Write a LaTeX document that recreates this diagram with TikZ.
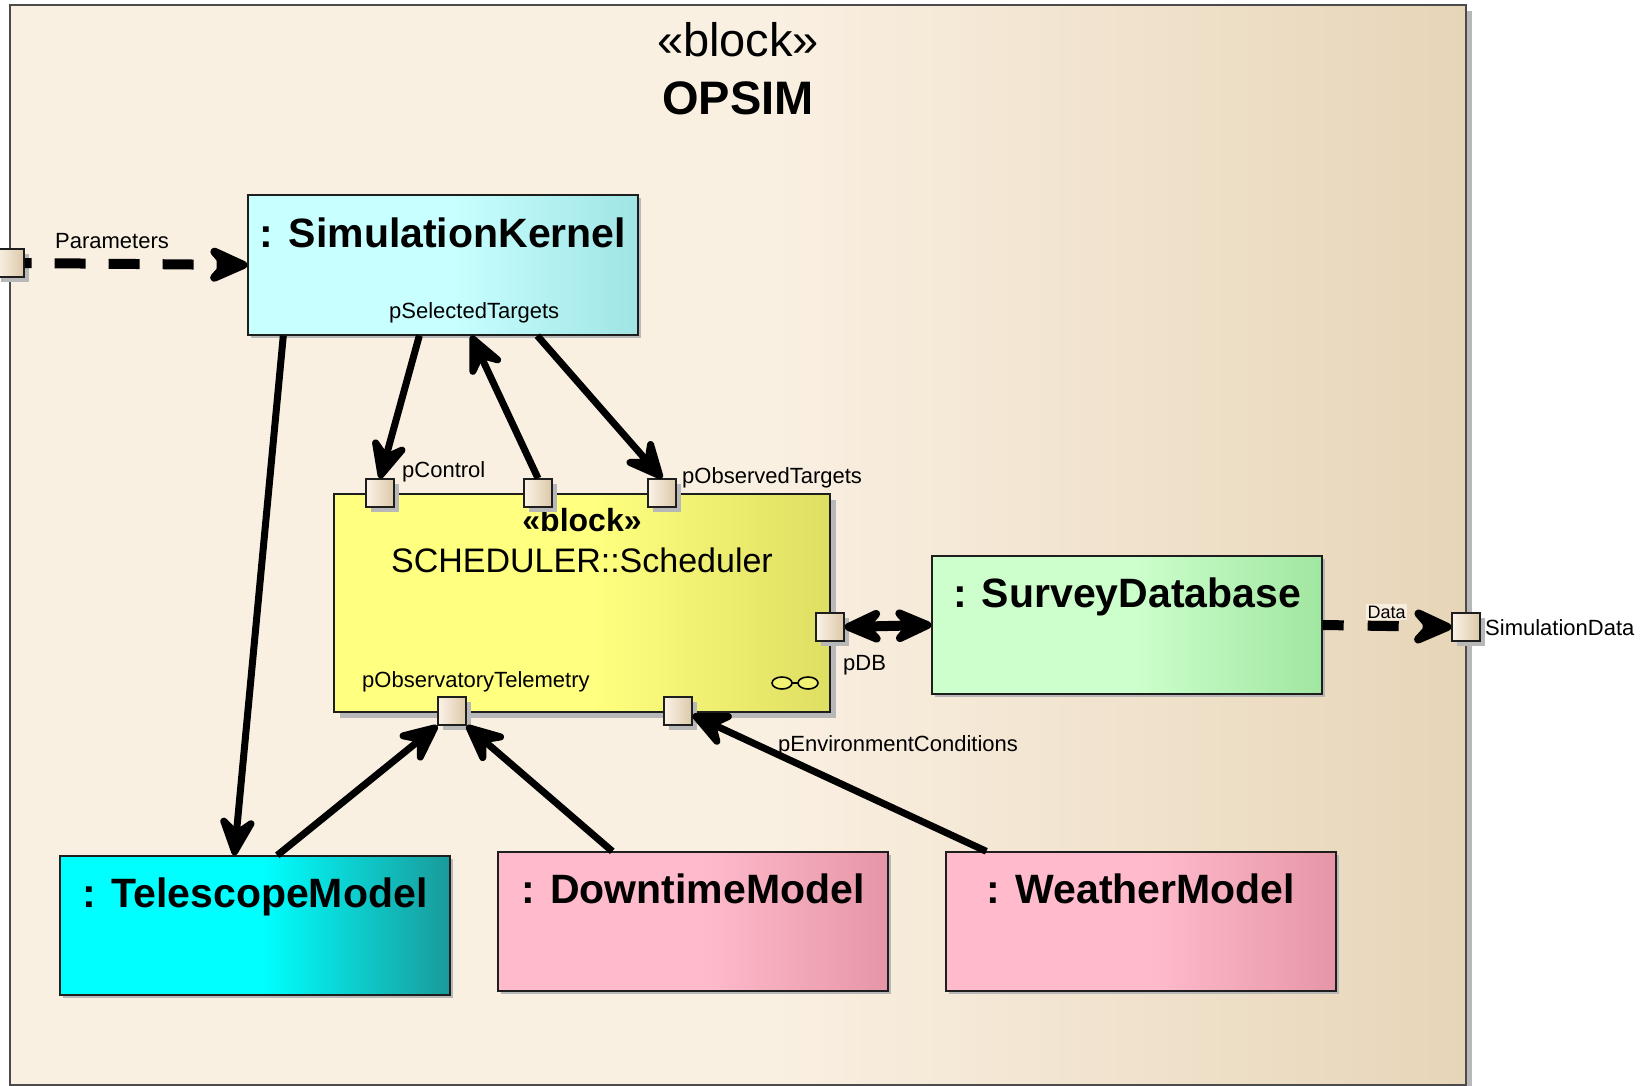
\documentclass[tikz,border=0pt]{standalone}
\usepackage{fontspec}
\setmainfont{Liberation Sans}
\usetikzlibrary{arrows.meta,shadows}

\definecolor{frL}{HTML}{FAF0E2}
\definecolor{frR}{HTML}{E7D5B8}
\definecolor{skL}{HTML}{C8FFFF}
\definecolor{skR}{HTML}{A0E4E4}
\definecolor{scL}{HTML}{FFFF80}
\definecolor{scR}{HTML}{DEDE62}
\definecolor{dbL}{HTML}{CCFFCC}
\definecolor{dbR}{HTML}{A0E6A0}
\definecolor{tmL}{HTML}{00FFFF}
\definecolor{tmR}{HTML}{1A9A9A}
\definecolor{pkL}{HTML}{FFBBCC}
\definecolor{pkR}{HTML}{E696A6}
\definecolor{ptL}{HTML}{FBF3E8}
\definecolor{ptR}{HTML}{DCC8A8}
\definecolor{shd}{HTML}{B8B8B8}
\definecolor{lineC}{HTML}{1E1E1E}
\definecolor{datbg}{HTML}{F8EEDF}

\newcommand\mkshade[3]{\pgfdeclarehorizontalshading{#1}{100bp}{color(0bp)=(#2); color(25bp)=(#2); color(51bp)=(#2); color(75bp)=(#3); color(100bp)=(#3)}}
\mkshade{frameSh}{frL}{frR}
\mkshade{skSh}{skL}{skR}
\mkshade{scSh}{scL}{scR}
\mkshade{dbSh}{dbL}{dbR}
\mkshade{tmSh}{tmL}{tmR}
\mkshade{pkSh}{pkL}{pkR}
\pgfdeclarehorizontalshading{portSh}{100bp}{color(0bp)=(ptL); color(25bp)=(ptL); color(75bp)=(ptR); color(100bp)=(ptR)}

\tikzset{
  box/.style={draw=lineC, line width=1.4pt, rectangle, inner sep=0pt,
    minimum width=390pt, shade, shading=#1,
    drop shadow={shadow xshift=3pt, shadow yshift=-3pt, fill=shd, opacity=1}},
  portbox/.style={draw=lineC, line width=1.4pt, rectangle, shade, shading=portSh,
    minimum size=28pt, inner sep=0pt,
    drop shadow={shadow xshift=5pt, shadow yshift=-5pt, fill=shd, opacity=1}},
  ttl/.style={font=\fontsize{41}{48}\selectfont\bfseries, inner sep=0pt, anchor=base},
  lbl/.style={font=\fontsize{22}{25}\selectfont, inner sep=0pt, anchor=base west},
  conn/.style={line width=7pt, draw=black,
    -{Stealth[round,length=50pt,width=46pt,inset=19pt]}},
  dconn/.style={line width=10pt, draw=black,
    -{Stealth[round,length=54pt,width=48pt,inset=21pt]}},
  bconn/.style={line width=10pt, draw=black,
    {Stealth[round,length=52pt,width=46pt,inset=20pt]}-{Stealth[round,length=52pt,width=46pt,inset=20pt]}}
}

\begin{document}
\begin{tikzpicture}[x=1pt,y=-1pt]
\fill[white] (0,0) rectangle (1647,1086);
\useasboundingbox (0,0) rectangle (1647,1086);

% outer frame
\node[draw=lineC!80, line width=1.6pt, rectangle, inner sep=0pt,
  minimum width=1456pt, minimum height=1080pt, shade, shading=frameSh,
  drop shadow={shadow xshift=6pt, shadow yshift=-6pt, fill=shd, opacity=1}]
  (frame) at (738,545) {};
\node[font=\fontsize{47}{54}\selectfont, inner sep=0pt, anchor=base] (fst) at ([yshift=-52pt]frame.north) {«block»};
\node[font=\fontsize{47}{54}\selectfont\bfseries, inner sep=0pt, anchor=base] (fname) at ([yshift=-110pt]frame.north) {OPSIM};

% parts
\node[box=skSh, minimum height=140pt] (sk) at (443,265) {};
\node[ttl] (skt) at ([yshift=-53pt]sk.north) {: SimulationKernel};

\node[draw=lineC, line width=1.4pt, rectangle, inner sep=0pt, minimum width=496pt,
  minimum height=218pt, shade, shading=scSh,
  drop shadow={shadow xshift=6pt, shadow yshift=-6pt, fill=shd, opacity=1}] (sch) at (582,603) {};
\node[font=\fontsize{32}{38}\selectfont\bfseries, inner sep=0pt, anchor=base] (scst) at ([yshift=-38pt]sch.north) {«block»};
\node[font=\fontsize{34}{40}\selectfont, inner sep=0pt, anchor=base] (sct) at ([yshift=-79pt]sch.north) {SCHEDULER::Scheduler};
% ring icon
\draw[line width=1.6pt, fill=scL!60!scR] (782,683) ellipse [x radius=10pt, y radius=6pt];
\draw[line width=1.6pt, fill=scL!60!scR] (808,683) ellipse [x radius=10pt, y radius=6pt];
\draw[line width=1.6pt] (792,683) -- (798,683);

\node[box=dbSh, minimum height=138pt] (sdb) at (1127,625) {};
\node[ttl] (sdbt) at ([yshift=-52pt]sdb.north) {: SurveyDatabase};

\node[box=tmSh, minimum height=139pt] (tel) at (255,925.5) {};
\node[ttl] (telt) at ([yshift=-52pt]tel.north) {: TelescopeModel};

\node[box=pkSh, minimum height=139pt] (dwn) at (693,921.5) {};
\node[ttl] (dwnt) at ([yshift=-52pt]dwn.north) {: DowntimeModel};

\node[box=pkSh, minimum height=139pt] (wea) at (1141,921.5) {};
\node[ttl] (weat) at ([yshift=-52pt]wea.north) {: WeatherModel};

% ports
\node[portbox] (pPar) at (10,263) {};
\node[portbox] (pCtl) at (380,493) {};
\node[portbox] (pMid) at (538,493) {};
\node[portbox] (pObs) at (662,493) {};
\node[portbox] (pDB) at (830,627) {};
\node[portbox] (pTel) at (452,711) {};
\node[portbox] (pEnv) at (678,711) {};
\node[portbox] (pSim) at (1466,627) {};

% labels
\node[lbl] (lPar) at (55,248) {Parameters};
\node[lbl] (lSel) at (389,318) {pSelectedTargets};
\node[lbl] (lCtl) at (402,477) {pControl};
\node[lbl] (lObs) at (682,483) {pObservedTargets};
\node[lbl] (lDB) at (843,670) {pDB};
\node[lbl] (lTel) at (362,687) {pObservatoryTelemetry};
\node[lbl] (lEnv) at (778,751) {pEnvironmentConditions};
\node[lbl] (lSim) at (1485,635) {SimulationData};

% connectors
\draw[dconn, dash pattern=on 31pt off 23pt, dash phase=24pt] (pPar.east) -- (sk.west);
\draw[conn] ([xshift=36pt]sk.south west) -- ([xshift=175pt]tel.north west);
\draw[conn] ([xshift=172pt]sk.south west) -- (pCtl.north);
\draw[conn] (pMid.north) -- ([xshift=224pt]sk.south west);
\draw[conn] ([xshift=290pt]sk.south west) -- (pObs.north);
\draw[bconn] (pDB.east) -- (sdb.west);
\draw[dconn, dash pattern=on 31pt off 24pt, dash phase=10pt] (sdb.east) -- (pSim.west);
\draw[conn] ([xshift=218pt]tel.north west) -- (pTel.south west);
\draw[conn] ([xshift=115pt]dwn.north west) -- (pTel.south east);
\draw[conn] ([xshift=41pt]wea.north west) -- ([yshift=-4pt]pEnv.east);

\node[font=\fontsize{18}{20}\selectfont, inner sep=1.5pt, fill=datbg, anchor=base west] (lData) at (1366,618) {Data};
\end{tikzpicture}
\end{document}
